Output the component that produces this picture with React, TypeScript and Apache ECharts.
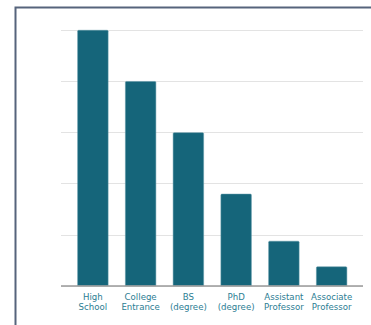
import React, { useEffect, useRef } from "react";
import * as echarts from "echarts";

const categories = [
  "High\nSchool",
  "College\nEntrance",
  "BS\n(degree)",
  "PhD\n(degree)",
  "Assistant\nProfessor",
  "Associate\nProfessor",
];
const values = [5, 4, 3, 1.8, 0.88, 0.38];
const yMin = 0;
const yMax = 5;
const yInterval = 1;

export default function App() {
  const ref = useRef<HTMLDivElement>(null);
  useEffect(() => {
    if (!ref.current) return;
    const chart = echarts.init(ref.current, undefined, { renderer: "svg" });
    chart.setOption({
      animation: false,
      backgroundColor: "#ffffff",
      graphic: [
        {
          type: "polyline",
          shape: { points: [[15.5, 400], [15.5, 7.5], [400, 7.5]] },
          style: { stroke: "#56647c", lineWidth: 2, fill: null },
          silent: true,
        },
      ],
      grid: [
        { left: 61, right: 8, top: 30, bottom: 39, containLabel: false },
        { left: 69, right: 15.5, top: 30, bottom: 39, containLabel: false },
      ],
      xAxis: [
        {
          gridIndex: 0,
          type: "category",
          data: categories,
          show: false,
        },
        {
          gridIndex: 1,
          type: "category",
          data: categories,
          axisLine: { show: false },
          axisTick: { show: false },
          axisLabel: {
            color: "#2b7d93",
            fontFamily: "DejaVu Sans",
            fontSize: 8.6,
            lineHeight: 10,
            margin: 6,
            interval: 0,
          },
        },
      ],
      yAxis: [
        {
          gridIndex: 0,
          type: "value",
          min: yMin,
          max: yMax,
          interval: yInterval,
          axisLabel: { show: false },
          axisTick: { show: false },
          axisLine: { show: false },
          splitLine: { lineStyle: { color: "#e3e3e3", width: 1 } },
        },
        {
          gridIndex: 1,
          type: "value",
          min: yMin,
          max: yMax,
          interval: yInterval,
          show: false,
          splitLine: { show: false },
        },
      ],
      series: [
        {
          type: "bar",
          xAxisIndex: 0,
          yAxisIndex: 0,
          data: [],
          markLine: {
            silent: true,
            symbol: "none",
            label: { show: false },
            lineStyle: { color: "#9a9a9a", width: 1.5, type: "solid" },
            data: [{ yAxis: 0 }],
          },
        },
        {
          type: "bar",
          xAxisIndex: 1,
          yAxisIndex: 1,
          data: values,
          barWidth: 31,
          itemStyle: {
            color: "#15657a",
            borderRadius: [1, 1, 0, 0],
            borderColor: "#5d96a6",
            borderWidth: 0.5,
          },
          z: 1,
        },
      ],
    });
    return () => chart.dispose();
  }, []);
  return <div ref={ref} style={{ width: 371, height: 325, position: "absolute", left: 0, top: 0 }} />;
}
